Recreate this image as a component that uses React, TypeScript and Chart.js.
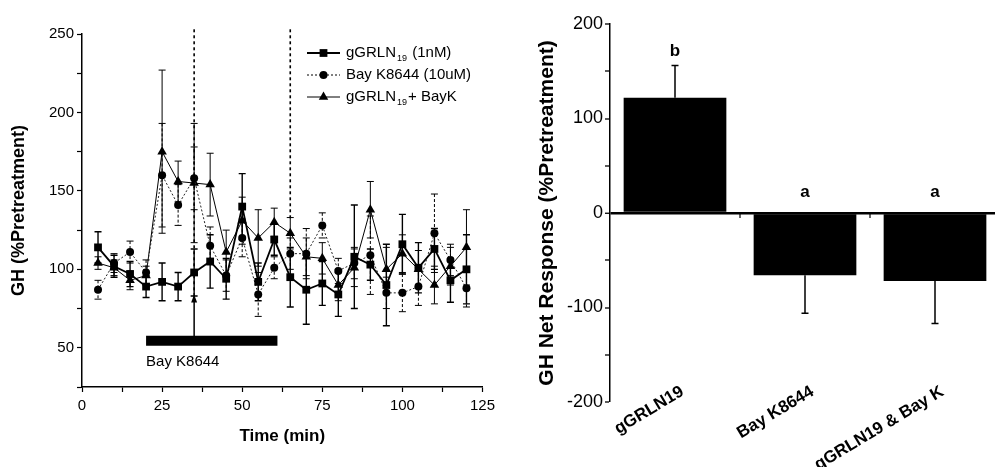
import React, { useEffect, useRef } from 'react';
import { Chart, registerables } from 'chart.js';

Chart.register(...registerables);

const FONT = '"Liberation Sans", Arial, Helvetica, sans-serif';

// ---------- Left panel data (time course) ----------
const times = [5, 10, 15, 20, 25, 30, 35, 40, 45, 50, 55, 60, 65, 70, 75, 80, 85, 90, 95, 100, 105, 110, 115, 120];
const gGRLN = [114, 102, 97, 89, 92, 89, 98, 105, 94, 140, 92, 119, 95, 87, 91, 84, 108, 103, 90, 116, 101, 113, 93, 100];
const gGRLNErr = [10, 7, 8, 7, 12, 9, 15, 17, 13, 21, 12, 10, 19, 22, 14, 14, 33, 10, 26, 19, 16, 13, 14, 22];
const bayK = [87, 104, 111, 98, 160, 141, 158, 115, 96, 120, 84, 101, 110, 110, 128, 99, 104, 109, 85, 85, 89, 123, 106, 88];
const bayKErr = [6, 6, 7, 8, 33, 13, 20, 12, 10, 12, 14, 7, 10, 16, 8, 8, 10, 25, 10, 12, 12, 25, 10, 12];
const combo = [104, 101, 93, 96, 175, 156, 155, 154, 111, 131, 120, 130, 123, 108, 107, 90, 101, 138, 100, 110, 100, 90, 102, 114];
const comboErr = [4, 5, 6, 6, 52, 13, 38, 20, 14, 15, 18, 9, 10, 12, 10, 10, 12, 18, 14, 12, 12, 12, 12, 24];

const seriesLabels = ['gGRLN|19| (1nM)', 'Bay K8644 (10uM)', 'gGRLN|19|+ BayK'];
const dashedTimes = [35, 65];
const dashedBottoms = [84, 131];
const dashedTop = 253;
const arrowTime = 35;
const arrowFrom = 57;
const arrowTo = 84;
const bayKBarStart = 20;
const bayKBarEnd = 61;
const bayKBarLevel = 54.5;
const bayKBarLabel = 'Bay K8644';

// ---------- Right panel data (net response) ----------
const barCategories = ['gGRLN19', 'Bay K8644', 'gGRLN19 & Bay K'];
const barValues = [122, -66, -72];
const barErrors = [34, 40, 45];
const barLetters = ['b', 'a', 'a'];

function drawMarker(ctx: CanvasRenderingContext2D, style: string, x: number, y: number, r: number) {
  ctx.beginPath();
  if (style === 'rect') {
    const s = Math.SQRT1_2 * r;
    ctx.rect(x - s, y - s, 2 * s, 2 * s);
  } else if (style === 'triangle') {
    let rad = 0;
    ctx.moveTo(x + Math.sin(rad) * r, y - Math.cos(rad) * r);
    rad += (2 * Math.PI) / 3;
    ctx.lineTo(x + Math.sin(rad) * r, y - Math.cos(rad) * r);
    rad += (2 * Math.PI) / 3;
    ctx.lineTo(x + Math.sin(rad) * r, y - Math.cos(rad) * r);
    ctx.closePath();
  } else {
    ctx.arc(x, y, r, 0, Math.PI * 2);
  }
  ctx.fill();
}

const leftErrorPlugin = {
  id: 'leftErrorBars',
  beforeDatasetsDraw(chart: any) {
    const { ctx, scales } = chart;
    const xs = scales.x;
    const ys = scales.y;
    ctx.save();
    ctx.strokeStyle = '#000';
    ctx.lineWidth = 1.6;
    ctx.setLineDash([3, 3]);
    dashedTimes.forEach((t, i) => {
      const px = xs.getPixelForValue(t);
      ctx.beginPath();
      ctx.moveTo(px, ys.getPixelForValue(dashedTop));
      ctx.lineTo(px, ys.getPixelForValue(dashedBottoms[i]));
      ctx.stroke();
    });
    ctx.setLineDash([]);
    const ax = xs.getPixelForValue(arrowTime);
    const ay1 = ys.getPixelForValue(arrowFrom);
    const ay2 = ys.getPixelForValue(arrowTo);
    ctx.lineWidth = 1.5;
    ctx.beginPath();
    ctx.moveTo(ax, ay1);
    ctx.lineTo(ax, ay2);
    ctx.stroke();
    ctx.beginPath();
    ctx.moveTo(ax, ay2);
    ctx.lineTo(ax - 3, ay2 + 8);
    ctx.lineTo(ax + 3, ay2 + 8);
    ctx.closePath();
    ctx.fillStyle = '#000';
    ctx.fill();

    chart.data.datasets.forEach((ds: any) => {
      if (!ds.errors) return;
      ctx.strokeStyle = '#000';
      ctx.lineWidth = ds.errWidth;
      ds.data.forEach((pt: any, i: number) => {
        const px = xs.getPixelForValue(pt.x);
        const top = ys.getPixelForValue(pt.y + ds.errors[i]);
        const bot = ys.getPixelForValue(pt.y - ds.errors[i]);
        ctx.setLineDash(ds.errDash);
        ctx.beginPath();
        ctx.moveTo(px, top);
        ctx.lineTo(px, bot);
        ctx.stroke();
        ctx.setLineDash([]);
        ctx.beginPath();
        ctx.moveTo(px - 3.5, top);
        ctx.lineTo(px + 3.5, top);
        ctx.moveTo(px - 3.5, bot);
        ctx.lineTo(px + 3.5, bot);
        ctx.stroke();
      });
    });
    ctx.restore();
  },
  afterDraw(chart: any) {
    const { ctx, scales } = chart;
    const xs = scales.x;
    const ys = scales.y;
    ctx.save();
    ctx.fillStyle = '#000';
    ctx.font = `15px ${FONT}`;
    ctx.textAlign = 'left';
    ctx.textBaseline = 'middle';
    ctx.fillText(bayKBarLabel, xs.getPixelForValue(bayKBarStart), ys.getPixelForValue(bayKBarLevel) + 21);

    const styles = [
      { pt: 'rect', r: 5.5, w: 1.8, dash: [] as number[] },
      { pt: 'circle', r: 4, w: 1, dash: [2, 2] },
      { pt: 'triangle', r: 5.5, w: 1, dash: [] as number[] },
    ];
    const rowsY = [53, 75, 97];
    seriesLabels.forEach((lab, i) => {
      const y = rowsY[i];
      const st = styles[i];
      ctx.strokeStyle = '#000';
      ctx.lineWidth = st.w;
      ctx.setLineDash(st.dash);
      ctx.beginPath();
      ctx.moveTo(307, y);
      ctx.lineTo(340, y);
      ctx.stroke();
      ctx.setLineDash([]);
      drawMarker(ctx, st.pt, 323.5, y, st.r);
      const parts = lab.split('|');
      let x = 346;
      ctx.textAlign = 'left';
      ctx.textBaseline = 'middle';
      parts.forEach((p, k) => {
        if (k % 2 === 1) {
          ctx.font = `9px ${FONT}`;
          ctx.fillText(p, x + 1, y + 6);
          x += ctx.measureText(p).width + 2;
        } else {
          ctx.font = `15px ${FONT}`;
          ctx.fillText(p, x, y);
          x += ctx.measureText(p).width;
        }
      });
    });
    ctx.restore();
  },
};

const rightPlugin = {
  id: 'rightExtras',
  afterDatasetsDraw(chart: any) {
    const { ctx, scales } = chart;
    const xs = scales.x;
    const ys = scales.y;
    ctx.save();
    ctx.strokeStyle = '#000';
    ctx.fillStyle = '#000';
    ctx.lineWidth = 1.5;
    const zeroPx = ys.getPixelForValue(0);
    barValues.forEach((v, i) => {
      const px = xs.getPixelForValue(i);
      const end = v >= 0 ? v + barErrors[i] : v - barErrors[i];
      const p1 = ys.getPixelForValue(v);
      const p2 = ys.getPixelForValue(end);
      ctx.beginPath();
      ctx.moveTo(px, p1);
      ctx.lineTo(px, p2);
      ctx.moveTo(px - 3.5, p2);
      ctx.lineTo(px + 3.5, p2);
      ctx.stroke();
      const ref = ys.getPixelForValue(Math.max(v >= 0 ? end : 0, 0));
      ctx.font = `bold 17px ${FONT}`;
      ctx.textAlign = 'center';
      ctx.textBaseline = 'alphabetic';
      ctx.fillText(barLetters[i], px, ref - (v >= 0 ? 10 : 16));
      if (i > 0) {
        const bx = (xs.getPixelForValue(i - 1) + px) / 2;
        ctx.lineWidth = 1.2;
        ctx.beginPath();
        ctx.moveTo(bx, zeroPx);
        ctx.lineTo(bx, zeroPx + 5);
        ctx.stroke();
        ctx.lineWidth = 1.5;
      }
    });
    ctx.font = `bold 17px ${FONT}`;
    ctx.textAlign = 'right';
    ctx.textBaseline = 'top';
    barCategories.forEach((lab, i) => {
      const px = xs.getPixelForValue(i);
      ctx.save();
      ctx.translate(px + 3, 383);
      ctx.rotate((-31 * Math.PI) / 180);
      ctx.fillText(lab, 0, 0);
      ctx.restore();
    });
    ctx.restore();
  },
};

export default function App() {
  const leftRef = useRef<HTMLCanvasElement>(null);
  const rightRef = useRef<HTMLCanvasElement>(null);

  useEffect(() => {
    const mk = (arr: number[]) => times.map((t, i) => ({ x: t, y: arr[i] }));
    const left = new Chart(leftRef.current as HTMLCanvasElement, {
      type: 'line',
      data: {
        datasets: [
          {
            label: 'gGRLN19 (1nM)',
            data: mk(gGRLN),
            borderColor: '#000',
            backgroundColor: '#000',
            borderWidth: 1.8,
            pointStyle: 'rect',
            pointRadius: 5.5,
            pointBorderWidth: 0,
            tension: 0,
            clip: false,
            errors: gGRLNErr,
            errWidth: 1.4,
            errDash: [],
          } as any,
          {
            label: 'Bay K8644 (10uM)',
            data: mk(bayK),
            borderColor: '#222',
            backgroundColor: '#000',
            borderWidth: 1,
            borderDash: [2, 2],
            pointStyle: 'circle',
            pointRadius: 4,
            pointBorderWidth: 0,
            tension: 0,
            clip: false,
            errors: bayKErr,
            errWidth: 1,
            errDash: [3, 2],
          } as any,
          {
            label: 'gGRLN19 + BayK',
            data: mk(combo),
            borderColor: '#000',
            backgroundColor: '#000',
            borderWidth: 1,
            pointStyle: 'triangle',
            pointRadius: 5.5,
            pointBorderWidth: 0,
            tension: 0,
            clip: false,
            errors: comboErr,
            errWidth: 1,
            errDash: [],
          } as any,
          {
            label: 'Bay K8644 period',
            data: [
              { x: bayKBarStart, y: bayKBarLevel },
              { x: bayKBarEnd, y: bayKBarLevel },
            ],
            borderColor: '#000',
            borderWidth: 10,
            borderCapStyle: 'butt',
            pointRadius: 0,
            clip: false,
          } as any,
        ],
      },
      options: {
        animation: false,
        responsive: false,
        devicePixelRatio: 1,
        layout: { padding: { top: 34, right: 16, left: 0, bottom: 0 } },
        plugins: { legend: { display: false }, tooltip: { enabled: false } },
        scales: {
          x: {
            type: 'linear',
            min: 0,
            max: 125,
            ticks: {
              stepSize: 12.5,
              autoSkip: false,
              maxRotation: 0,
              color: '#000',
              padding: 5,
              font: { family: FONT, size: 15 },
              callback: (v: any) => (Number(v) % 25 === 0 ? String(v) : ''),
            },
            grid: { drawOnChartArea: false, drawTicks: true, tickLength: 5, color: '#000', tickWidth: 1.2 },
            border: { color: '#000', width: 1.5 },
            title: {
              display: true,
              text: 'Time (min)',
              color: '#000',
              font: { family: FONT, size: 17, weight: 'bold' },
              padding: { top: 0, bottom: 20 },
            },
            afterFit: (s: any) => {
              s.height = 80;
            },
          },
          y: {
            type: 'linear',
            min: 25,
            max: 250,
            ticks: {
              stepSize: 25,
              autoSkip: false,
              color: '#000',
              padding: 3,
              font: { family: FONT, size: 15 },
              callback: (v: any) => (Number(v) % 50 === 0 ? String(v) : ''),
            },
            grid: { drawOnChartArea: false, drawTicks: true, tickLength: 5, color: '#000', tickWidth: 1.2 },
            border: { color: '#000', width: 1.5 },
            title: {
              display: true,
              text: 'GH (%Pretreatment)',
              color: '#000',
              font: { family: FONT, size: 18, weight: 'bold' },
              padding: { top: 8, bottom: 0 },
            },
            afterFit: (s: any) => {
              s.width = 82;
            },
          },
        },
      } as any,
      plugins: [leftErrorPlugin],
    });

    const right = new Chart(rightRef.current as HTMLCanvasElement, {
      type: 'bar',
      data: {
        labels: barCategories,
        datasets: [
          {
            label: 'GH Net Response',
            data: barValues,
            backgroundColor: '#000',
            borderWidth: 0,
            barPercentage: 0.79,
            categoryPercentage: 1,
          },
        ],
      },
      options: {
        animation: false,
        responsive: false,
        devicePixelRatio: 1,
        layout: { padding: { top: 24, right: 0, left: 0, bottom: 0 } },
        plugins: { legend: { display: false }, tooltip: { enabled: false } },
        scales: {
          x: {
            type: 'category',
            offset: true,
            grid: { display: false },
            border: { display: false },
            ticks: { display: false },
            afterFit: (s: any) => {
              s.height = 65;
            },
          },
          y: {
            type: 'linear',
            min: -200,
            max: 200,
            ticks: {
              stepSize: 50,
              autoSkip: false,
              color: '#000',
              padding: 2,
              font: { family: FONT, size: 18 },
              callback: (v: any) => (Number(v) % 100 === 0 ? String(v) : ''),
            },
            grid: {
              drawOnChartArea: true,
              drawTicks: true,
              tickLength: 5,
              tickColor: '#000',
              tickWidth: 1.3,
              color: (c: any) => (c.tick && c.tick.value === 0 ? '#000' : 'rgba(0,0,0,0)'),
              lineWidth: (c: any) => (c.tick && c.tick.value === 0 ? 2.5 : 0),
            },
            border: { color: '#000', width: 1.5 },
            title: {
              display: true,
              text: 'GH Net Response (%Pretreatment)',
              color: '#000',
              font: { family: FONT, size: 21, weight: 'bold' },
              padding: { top: 15, bottom: 0 },
            },
            afterFit: (s: any) => {
              s.width = 90;
            },
          },
        },
      } as any,
      plugins: [rightPlugin],
    });

    return () => {
      left.destroy();
      right.destroy();
    };
  }, []);

  return (
    <div style={{ position: 'absolute', left: 0, top: 0, width: 995, height: 467, overflow: 'hidden', background: '#fff' }}>
      <canvas ref={leftRef} width={500} height={467} style={{ position: 'absolute', left: 0, top: 0, width: 500, height: 467 }} />
      <canvas ref={rightRef} width={480} height={467} style={{ position: 'absolute', left: 520, top: 0, width: 480, height: 467 }} />
    </div>
  );
}
